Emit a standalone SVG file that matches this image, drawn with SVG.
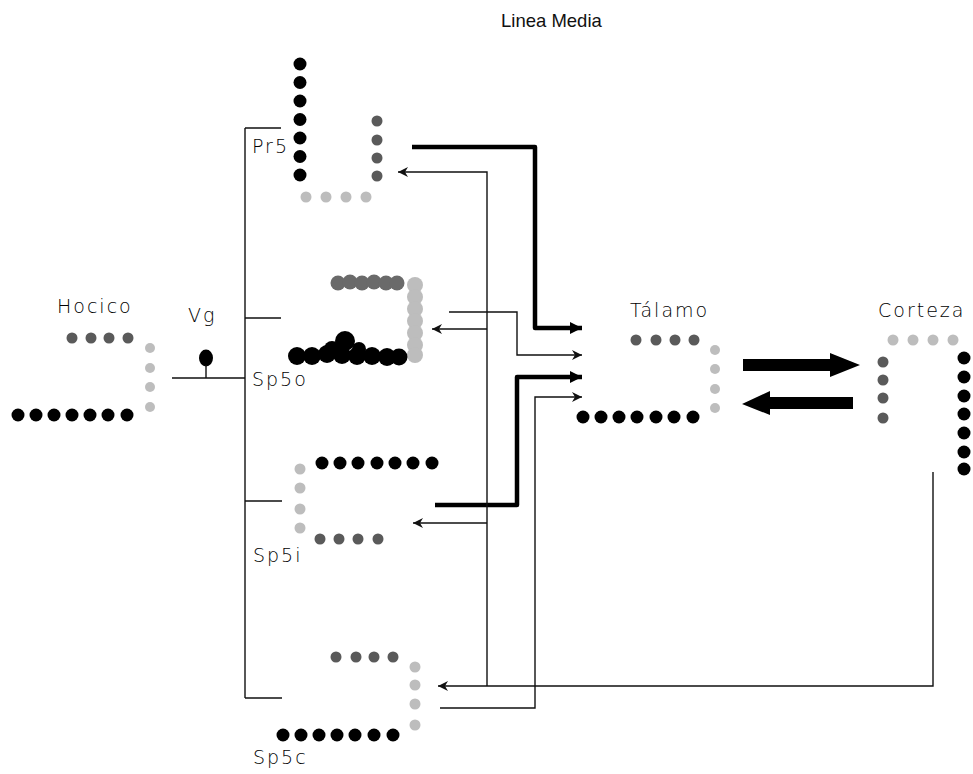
<svg xmlns="http://www.w3.org/2000/svg" width="973" height="774" viewBox="0 0 973 774">
<defs>
<style>
.lbl{font-family:"DejaVu Sans","Liberation Sans",sans-serif;font-size:19px;font-weight:200;letter-spacing:2px;fill:#000}
.title{font-family:"Liberation Sans",Arial,sans-serif;font-size:18.5px;fill:#111}
.bk{fill:#000}
.dg{fill:#5a5a5a}
.lg{fill:#bdbdbd}
.ln{fill:none;stroke:#111;stroke-width:1.4}
.th{fill:none;stroke:#000;stroke-width:4.5;stroke-linejoin:round}
</style>
<marker id="ah" markerUnits="userSpaceOnUse" markerWidth="12" markerHeight="10" refX="10" refY="5" orient="auto">
<path d="M0,0 L10,5 L0,10 L3,5 Z" fill="#111"/>
</marker>
<marker id="ahT" markerUnits="userSpaceOnUse" markerWidth="14" markerHeight="14" refX="12" refY="7" orient="auto">
<path d="M0,1 L12,7 L0,13 Z" fill="#000"/>
</marker>
</defs>
<rect width="973" height="774" fill="#fff"/>

<text class="title" x="501" y="27">Linea Media</text>

<g id="bracket">
<path class="ln" d="M245,128 V698 M245,128 H281 M245,318 H281 M245,501 H282 M245,698 H282"/>
</g>

<g id="hocico">
<text class="lbl" x="57" y="313">Hocico</text>
<g class="dg"><circle cx="72" cy="338" r="5.5"/><circle cx="91" cy="338" r="5.5"/><circle cx="109" cy="338" r="5.5"/><circle cx="128" cy="338" r="5.5"/></g>
<g class="lg"><circle cx="150" cy="348" r="5"/><circle cx="150" cy="368" r="5"/><circle cx="150" cy="387" r="5"/><circle cx="150" cy="407" r="5"/></g>
<g class="bk"><circle cx="18" cy="415" r="6.5"/><circle cx="36" cy="415" r="6.5"/><circle cx="54" cy="415" r="6.5"/><circle cx="72" cy="415" r="6.5"/><circle cx="90" cy="415" r="6.5"/><circle cx="108" cy="415" r="6.5"/><circle cx="127" cy="415" r="6.5"/></g>
</g>

<g id="vg">
<text class="lbl" x="188" y="322">Vg</text>
<ellipse cx="206" cy="358" rx="7" ry="8.5" fill="#000"/>
<path class="ln" d="M206,365 V378 M172,378 H245"/>
</g>

<g id="pr5">
<text class="lbl" x="252" y="153">Pr5</text>
<g class="bk"><circle cx="300" cy="64" r="6.5"/><circle cx="300" cy="82.5" r="6.5"/><circle cx="300" cy="101" r="6.5"/><circle cx="300" cy="119.5" r="6.5"/><circle cx="300" cy="138" r="6.5"/><circle cx="300" cy="156.5" r="6.5"/><circle cx="300" cy="175" r="6.5"/></g>
<g class="dg"><circle cx="377" cy="121" r="5.5"/><circle cx="377" cy="140" r="5.5"/><circle cx="377" cy="158" r="5.5"/><circle cx="377" cy="176" r="5.5"/></g>
<g class="lg"><circle cx="306" cy="197" r="5.5"/><circle cx="326" cy="197" r="5.5"/><circle cx="346" cy="197" r="5.5"/><circle cx="366" cy="197" r="5.5"/></g>
</g>

<g id="sp5o">
<text class="lbl" x="252" y="386">Sp5o</text>
<g fill="#6a6a6a"><circle cx="338" cy="283" r="7.5"/><circle cx="350" cy="282" r="7.5"/><circle cx="362" cy="283" r="7.5"/><circle cx="374" cy="282" r="7.5"/><circle cx="386" cy="283" r="7.5"/><circle cx="397" cy="283" r="7.5"/></g>
<g class="lg"><circle cx="415" cy="285" r="8"/><circle cx="415" cy="297" r="8"/><circle cx="415" cy="309" r="8"/><circle cx="415" cy="321" r="8"/><circle cx="415" cy="333" r="8"/><circle cx="415" cy="345" r="8"/><circle cx="415" cy="355" r="8"/></g>
<g class="bk"><circle cx="297" cy="356" r="9"/><circle cx="312" cy="356" r="9"/><circle cx="327" cy="354" r="9"/><circle cx="342" cy="355" r="9"/><circle cx="357" cy="356" r="9"/><circle cx="372" cy="356" r="9"/><circle cx="387" cy="357" r="9"/><circle cx="399" cy="357" r="8.5"/><circle cx="345" cy="341" r="10"/><circle cx="332" cy="349" r="8"/><circle cx="359" cy="349" r="7"/></g>
</g>

<g id="sp5i">
<text class="lbl" x="253" y="562">Sp5i</text>
<g class="bk"><circle cx="322" cy="463" r="6.5"/><circle cx="340" cy="463" r="6.5"/><circle cx="358" cy="463" r="6.5"/><circle cx="377" cy="463" r="6.5"/><circle cx="395" cy="463" r="6.5"/><circle cx="413" cy="463" r="6.5"/><circle cx="432" cy="463" r="6.5"/></g>
<g class="lg"><circle cx="300" cy="469" r="5.5"/><circle cx="300" cy="488" r="5.5"/><circle cx="300" cy="509" r="5.5"/><circle cx="300" cy="528" r="5.5"/></g>
<g class="dg"><circle cx="320" cy="539" r="5.5"/><circle cx="339" cy="539" r="5.5"/><circle cx="358" cy="539" r="5.5"/><circle cx="378" cy="539" r="5.5"/></g>
</g>

<g id="sp5c">
<text class="lbl" x="253" y="764">Sp5c</text>
<g class="dg"><circle cx="336" cy="657" r="5.5"/><circle cx="356" cy="657" r="5.5"/><circle cx="374" cy="657" r="5.5"/><circle cx="393" cy="657" r="5.5"/></g>
<g class="lg"><circle cx="415" cy="667" r="5.5"/><circle cx="415" cy="685" r="5.5"/><circle cx="415" cy="704" r="5.5"/><circle cx="415" cy="725" r="5.5"/></g>
<g class="bk"><circle cx="283" cy="735" r="6.5"/><circle cx="301" cy="735" r="6.5"/><circle cx="319" cy="735" r="6.5"/><circle cx="337" cy="735" r="6.5"/><circle cx="355" cy="735" r="6.5"/><circle cx="374" cy="735" r="6.5"/><circle cx="393" cy="735" r="6.5"/></g>
</g>

<g id="talamo">
<text class="lbl" x="630" y="317">Tálamo</text>
<g class="dg"><circle cx="636" cy="340" r="5.5"/><circle cx="656" cy="340" r="5.5"/><circle cx="675" cy="340" r="5.5"/><circle cx="694" cy="340" r="5.5"/></g>
<g class="lg"><circle cx="715" cy="350" r="5"/><circle cx="715" cy="369" r="5"/><circle cx="715" cy="389" r="5"/><circle cx="715" cy="408" r="5"/></g>
<g class="bk"><circle cx="583" cy="417" r="6.5"/><circle cx="601" cy="417" r="6.5"/><circle cx="619" cy="417" r="6.5"/><circle cx="637" cy="417" r="6.5"/><circle cx="656" cy="417" r="6.5"/><circle cx="674" cy="417" r="6.5"/><circle cx="693" cy="417" r="6.5"/></g>
</g>

<g id="corteza">
<text class="lbl" x="878" y="317">Corteza</text>
<g class="lg"><circle cx="893" cy="340" r="5.5"/><circle cx="913" cy="340" r="5.5"/><circle cx="933" cy="340" r="5.5"/><circle cx="953" cy="340" r="5.5"/></g>
<g class="dg"><circle cx="883" cy="362" r="5.5"/><circle cx="883" cy="380" r="5.5"/><circle cx="883" cy="398" r="5.5"/><circle cx="883" cy="418" r="5.5"/></g>
<g class="bk"><circle cx="964" cy="358" r="6.5"/><circle cx="964" cy="377" r="6.5"/><circle cx="964" cy="396" r="6.5"/><circle cx="964" cy="414" r="6.5"/><circle cx="964" cy="433" r="6.5"/><circle cx="964" cy="452" r="6.5"/><circle cx="964" cy="469" r="6.5"/></g>
</g>

<g id="connectors">
<path class="th" d="M412,147 H535 V328 H582" marker-end="url(#ahT)"/>
<path class="th" d="M435,505 H517 V377 H582" marker-end="url(#ahT)"/>
<path class="ln" d="M449,312 H517 V355 H582" marker-end="url(#ah)"/>
<path class="ln" d="M440,708 H535 V397 H582" marker-end="url(#ah)"/>
<path class="ln" d="M487,686 V172 H398" marker-end="url(#ah)"/>
<path class="ln" d="M487,329 H432" marker-end="url(#ah)"/>
<path class="ln" d="M487,523 H413" marker-end="url(#ah)"/>
<path class="ln" d="M933,472 V686 H438" marker-end="url(#ah)"/>
<path d="M743,359 H830 V353 L860,365 L830,377 V371 H743 Z" fill="#000"/>
<path d="M853,397 H770 V391 L742,404 L770,415 V409 H853 Z" fill="#000"/>
</g>
</svg>
